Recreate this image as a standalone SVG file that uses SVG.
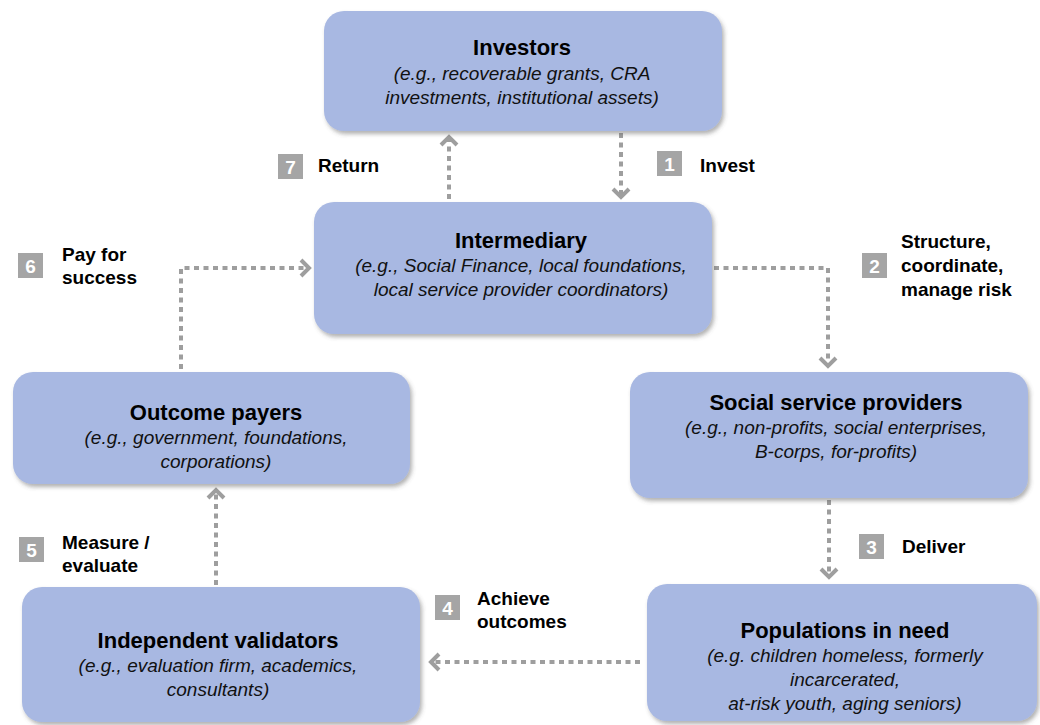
<svg xmlns="http://www.w3.org/2000/svg" width="1040" height="725" viewBox="0 0 1040 725">
<defs>
<style>
.box{fill:#A8B8E2;filter:url(#sh);}
.t{font-family:"Liberation Sans",Arial,sans-serif;font-weight:bold;font-size:22px;fill:#000;text-anchor:middle;}
.s{font-family:"Liberation Sans",Arial,sans-serif;font-style:italic;font-size:19px;fill:#111;text-anchor:middle;}
.l{font-family:"Liberation Sans",Arial,sans-serif;font-weight:bold;font-size:19px;fill:#000;}
.bd{fill:#A5A5A5;}
.bn{font-family:"Liberation Sans",Arial,sans-serif;font-weight:bold;font-size:19px;fill:#fff;text-anchor:middle;}
.c{fill:none;stroke:#9E9E9E;stroke-width:4;stroke-dasharray:5 4.5;marker-end:url(#ah);}
</style>
<filter id="sh" x="-10%" y="-10%" width="120%" height="130%">
<feDropShadow dx="2" dy="3" stdDeviation="2" flood-color="#555" flood-opacity="0.45"/>
</filter>
<marker id="ah" markerUnits="userSpaceOnUse" markerWidth="26" markerHeight="26" viewBox="-13 -13 17 26" refX="0" refY="0" orient="auto">
<path d="M-8,-8 L0,0 L-8,8" fill="none" stroke="#9E9E9E" stroke-width="4" stroke-dasharray="none"/>
</marker>
</defs>
<rect width="1040" height="725" fill="#fff"/>

<g id="connectors">
<path id="c-return" class="c" d="M449,199 V137"/>
<path id="c-invest" class="c" d="M621,133 V197"/>
<path id="c-pay" class="c" d="M181,369 V268 H309"/>
<path id="c-structure" class="c" d="M714,268 H828 V366"/>
<path id="c-deliver" class="c" d="M829,500 V577"/>
<path id="c-achieve" class="c" d="M640,662 H431"/>
<path id="c-measure" class="c" d="M216,585 V490"/>
</g>

<g id="investors">
<rect class="box" x="324" y="11" width="398" height="120" rx="20"/>
<text class="t" x="522" y="55">Investors</text>
<text class="s" x="522" y="80">(e.g., recoverable grants, CRA</text>
<text class="s" x="522" y="104">investments, institutional assets)</text>
</g>

<g id="intermediary">
<rect class="box" x="314" y="202" width="398" height="132" rx="20"/>
<text class="t" x="521" y="248">Intermediary</text>
<text class="s" x="521" y="272">(e.g., Social Finance, local foundations,</text>
<text class="s" x="521" y="296">local service provider coordinators)</text>
</g>

<g id="outcome-payers">
<rect class="box" x="13" y="372" width="397" height="112" rx="20"/>
<text class="t" x="216" y="420">Outcome payers</text>
<text class="s" x="216" y="444">(e.g., government, foundations,</text>
<text class="s" x="216" y="468">corporations)</text>
</g>

<g id="social-service-providers">
<rect class="box" x="630" y="372" width="398" height="126" rx="20"/>
<text class="t" x="836" y="410">Social service providers</text>
<text class="s" x="836" y="434">(e.g., non-profits, social enterprises,</text>
<text class="s" x="836" y="458">B-corps, for-profits)</text>
</g>

<g id="independent-validators">
<rect class="box" x="22" y="587" width="398" height="135" rx="20"/>
<text class="t" x="218" y="648">Independent validators</text>
<text class="s" x="218" y="672">(e.g., evaluation firm, academics,</text>
<text class="s" x="218" y="696">consultants)</text>
</g>

<g id="populations-in-need">
<rect class="box" x="647" y="584" width="390" height="137" rx="20"/>
<text class="t" x="845" y="638">Populations in need</text>
<text class="s" x="845" y="662">(e.g. children homeless, formerly</text>
<text class="s" x="845" y="686">incarcerated,</text>
<text class="s" x="845" y="710">at-risk youth, aging seniors)</text>
</g>

<g id="step-7">
<rect class="bd" x="278" y="154" width="25" height="25"/>
<text class="bn" x="290.5" y="173.5">7</text>
<text class="l" x="318" y="172">Return</text>
</g>
<g id="step-1">
<rect class="bd" x="657" y="151" width="25" height="25"/>
<text class="bn" x="669.5" y="170.5">1</text>
<text class="l" x="700" y="172">Invest</text>
</g>
<g id="step-6">
<rect class="bd" x="18" y="253" width="25" height="25"/>
<text class="bn" x="30.5" y="272.5">6</text>
<text class="l" x="62" y="261">Pay for</text>
<text class="l" x="62" y="284">success</text>
</g>
<g id="step-2">
<rect class="bd" x="862" y="253" width="25" height="25"/>
<text class="bn" x="874.5" y="272.5">2</text>
<text class="l" x="901" y="248">Structure,</text>
<text class="l" x="901" y="272">coordinate,</text>
<text class="l" x="901" y="296">manage risk</text>
</g>
<g id="step-3">
<rect class="bd" x="859" y="534" width="25" height="25"/>
<text class="bn" x="871.5" y="553.5">3</text>
<text class="l" x="902" y="553">Deliver</text>
</g>
<g id="step-4">
<rect class="bd" x="435" y="595" width="25" height="25"/>
<text class="bn" x="447.5" y="614.5">4</text>
<text class="l" x="477" y="605">Achieve</text>
<text class="l" x="477" y="628">outcomes</text>
</g>
<g id="step-5">
<rect class="bd" x="19" y="537" width="25" height="25"/>
<text class="bn" x="31.5" y="556.5">5</text>
<text class="l" x="62" y="549">Measure /</text>
<text class="l" x="62" y="572">evaluate</text>
</g>
</svg>
